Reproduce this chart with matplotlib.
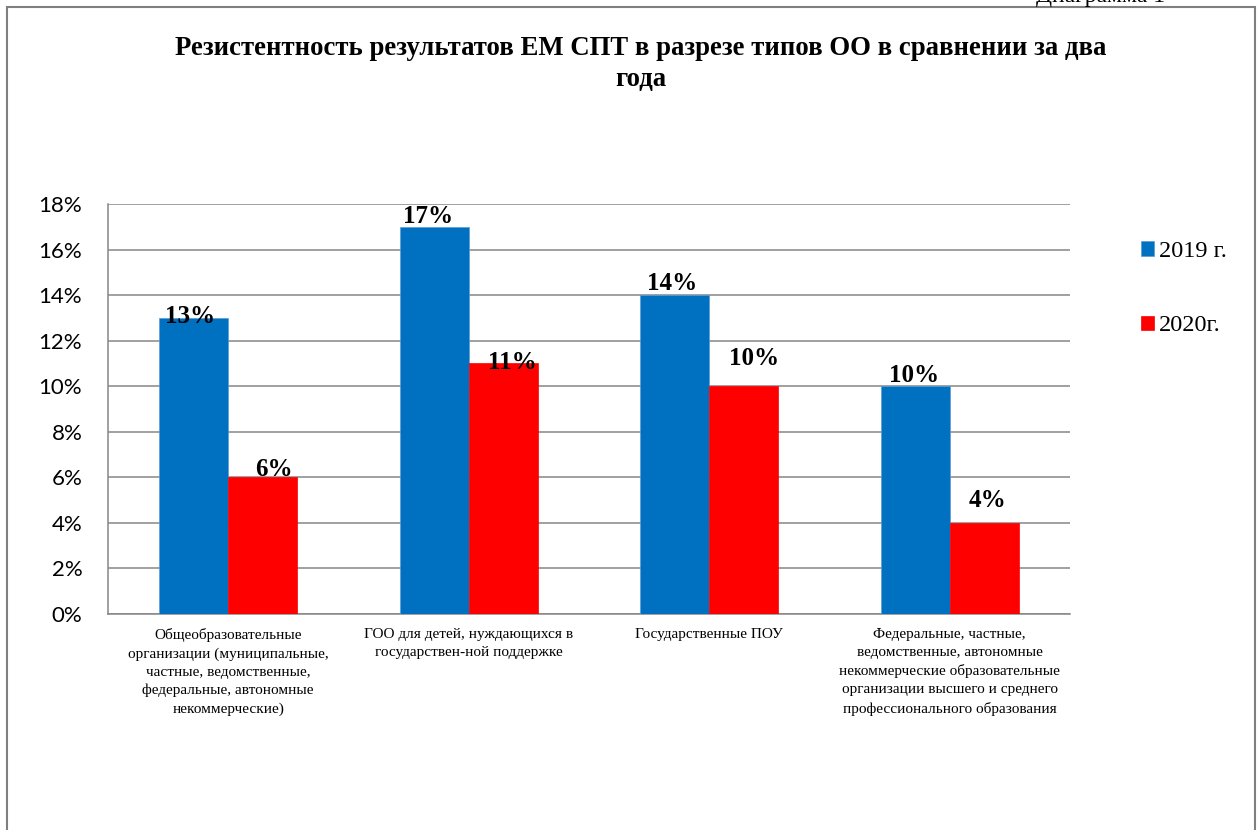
import matplotlib
matplotlib.use('Agg')
import matplotlib.pyplot as plt
import numpy as np
from matplotlib.patches import Rectangle

# Данные
categories = [
    'Общеобразовательные\nорганизации (муниципальные,\nчастные, ведомственные,\nфедеральные, автономные\nнекоммерческие)',
    'ГОО для детей, нуждающихся в\nгосударствен-ной поддержке',
    'Государственные ПОУ',
    'Федеральные, частные,\nведомственные, автономные\nнекоммерческие образовательные\nорганизации высшего и среднего\nпрофессионального образования',
]
values_2019 = [13, 17, 14, 10]
values_2020 = [6, 11, 10, 4]
series_names = ['2019 г.', '2020г.']
yticks = [0, 2, 4, 6, 8, 10, 12, 14, 16, 18]

# сдвиги подписей (в пикселях) как в исходной диаграмме
label_shift_2019 = [(-4, -5), (-6, 4), (-3, 5), (-1, 4)]
label_shift_2020 = [(11, 1), (9, -6), (10, 21), (3, 16)]

W, H = 1258, 830
fig = plt.figure(figsize=(W / 100, H / 100), dpi=100)
ax = fig.add_axes([108 / W, 1 - 614 / H, 962 / W, 410 / H])

x = np.arange(len(categories))
w = 0.287
bars1 = ax.bar(x - w / 2, values_2019, w, color='#0070C0', edgecolor='#5B9BD5', linewidth=0.5, label=series_names[0], zorder=3)
bars2 = ax.bar(x + w / 2, values_2020, w, color='#FF0000', edgecolor='#FF0000', linewidth=0.5, label=series_names[1], zorder=3)

# подписи значений
px = 0.72  # 1 пиксель в пунктах
for bars, shifts in [(bars1, label_shift_2019), (bars2, label_shift_2020)]:
    for b, (dx, dy) in zip(bars, shifts):
        ax.annotate(f'{int(b.get_height())}%', (b.get_x() + b.get_width() / 2, b.get_height()),
                    xytext=(dx * px, dy * px), textcoords='offset points',
                    ha='center', va='baseline', fontsize=18, fontweight='bold',
                    family='Liberation Serif', zorder=5)

ax.set_xlim(-0.5, len(categories) - 0.5)
ax.set_ylim(0, 18)
ax.set_yticks(yticks)
ax.set_yticklabels([f'{t}%' for t in yticks], family='Lato', fontsize=16)
ax.set_xticks(x)
ax.set_xticklabels(categories, family='Liberation Serif', fontsize=11, linespacing=1.5)
ax.tick_params(axis='y', length=0, pad=18.5)
ax.tick_params(axis='x', length=0, pad=10)
ax.grid(axis='y', color='#868686', linewidth=1.1, zorder=0)
for s in ['top', 'right']:
    ax.spines[s].set_visible(False)
for s in ['left', 'bottom']:
    ax.spines[s].set_color('#868686')
    ax.spines[s].set_linewidth(1.1)

leg = ax.legend(loc='upper left', bbox_to_anchor=(1141 / W, 1 - 241 / H), bbox_transform=fig.transFigure,
                frameon=False, prop={'family': 'Liberation Serif', 'size': 17.5},
                handlelength=0.55, handleheight=0.55, handletextpad=0.2, labelspacing=2.2,
                borderpad=0, borderaxespad=0)

fig.text(641 / W, 1 - 36 / H, 'Резистентность результатов ЕМ СПТ в разрезе типов ОО в сравнении за два\nгода',
         ha='center', va='top', fontsize=19.3, fontweight='bold', family='Liberation Serif', linespacing=1.32)

# рамка диаграммы и обрезанная подпись сверху
fig.patches.append(Rectangle((7 / W, -0.05), (1255 - 7) / W, 1.05 - 7 / H, transform=fig.transFigure,
                             fill=False, edgecolor='#7F7F7F', linewidth=1.5))
fig.text(1036 / W, 1 - 2 / H, 'Диаграмма 1', ha='left', va='baseline', fontsize=17, family='Liberation Serif')

fig.savefig('out.png', dpi=100)
